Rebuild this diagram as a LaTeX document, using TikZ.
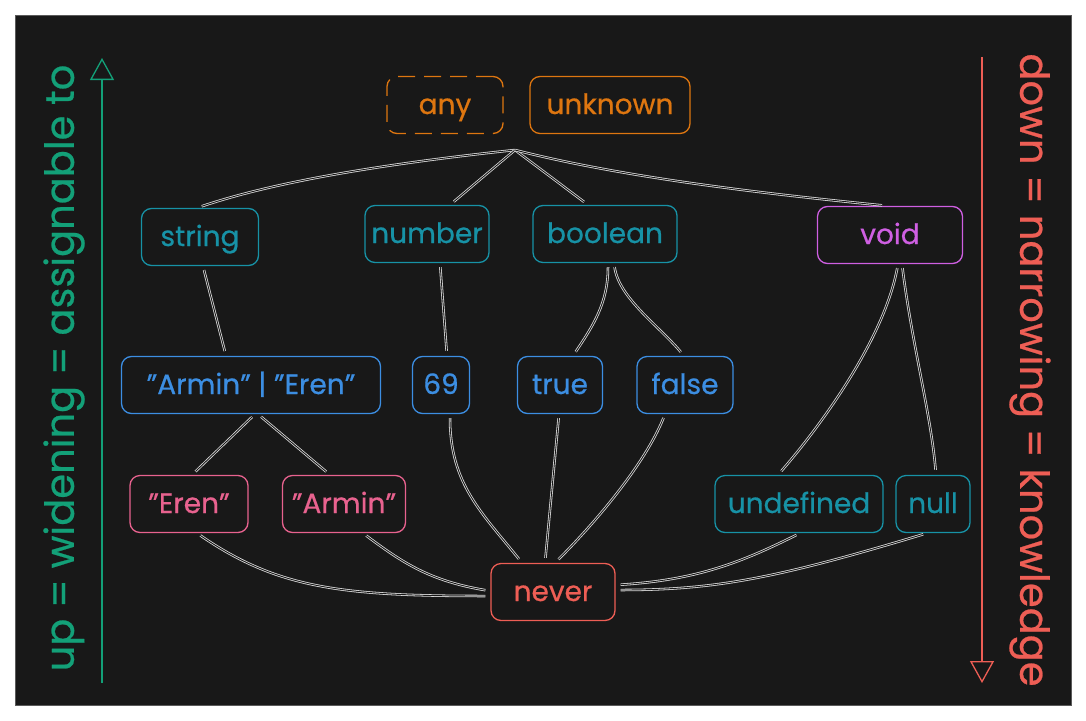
\documentclass[tikz,border=0pt]{standalone}
\usepackage{fontspec}
\setmainfont{Poppins}[FakeBold=0.6]
\usepackage{xcolor}
\definecolor{bgDark}{HTML}{181818}
\definecolor{frameGray}{HTML}{5A5A5A}
\definecolor{lineGray}{HTML}{DADADA}
\definecolor{tsOrange}{HTML}{DE7610}
\definecolor{tsTeal}{HTML}{1792A6}
\definecolor{tsBlue}{HTML}{3C8EE2}
\definecolor{tsPurple}{HTML}{CF5FE2}
\definecolor{tsPink}{HTML}{E8628F}
\definecolor{tsRed}{HTML}{EE5E55}
\definecolor{tsGreen}{HTML}{13A078}
\usetikzlibrary{arrows.meta,positioning,calc}
\newcommand{\dq}{\symbol{34}}
\tikzset{
  typebox/.style={rectangle,rounded corners=10pt,line width=1.3pt,fill=bgDark,
    inner sep=0pt,minimum height=57pt,text height=22pt,text depth=4pt,
    align=center,font=\fontsize{28}{31}\selectfont},
  toptype/.style={typebox,draw=tsOrange,text=tsOrange},
  primtype/.style={typebox,draw=tsTeal,text=tsTeal},
  littype/.style={typebox,draw=tsBlue,text=tsBlue},
  strlit/.style={typebox,draw=tsPink,text=tsPink},
  voidtype/.style={typebox,draw=tsPurple,text=tsPurple},
  bottomtype/.style={typebox,draw=tsRed,text=tsRed},
  link/.style={draw=lineGray,double=bgDark,double distance=0.9pt,line width=0.8pt,
    shorten <=4pt,shorten >=5pt},
  axis/.style={line width=1.3pt,-{Triangle[open,length=22pt,width=24pt,line width=1.3pt]}},
  axislabel/.style={font=\fontsize{40}{44}\selectfont},
}
\begin{document}
\begin{tikzpicture}[x=1pt,y=-1pt]
  \useasboundingbox (0,0) rectangle (1086,720);
  \fill[white] (0,0) rectangle (1086,720);
  \draw[frameGray,fill=bgDark] (15,15) rectangle (1071,705);

  % top types
  \node[toptype,dashed,dash pattern=on 17pt off 9pt,minimum width=116pt] (any) at (445,105) {any};
  \node[toptype,minimum width=160pt] (unknown) at (610,105) {unknown};
  \coordinate (topjoin) at (515,150);

  % primitives
  \node[primtype,minimum width=117pt] (string) at (200,237) {string};
  \node[primtype,minimum width=124pt] (number) at (427,234) {number};
  \node[primtype,minimum width=144pt] (boolean) at (605,234) {boolean};
  \node[voidtype,minimum width=145pt] (void) at (890,235) {void};

  % literals
  \node[littype,minimum width=259pt] (union) at (251,385) {\dq Armin\dq{} | \dq Eren\dq};
  \node[littype,minimum width=57pt] (lit69) at (441,385) {69};
  \node[littype,minimum width=85pt] (true) at (560,385) {true};
  \node[littype,minimum width=96pt] (false) at (685,385) {false};

  \node[strlit,minimum width=118pt] (eren) at (189,504) {\dq Eren\dq};
  \node[strlit,minimum width=123pt] (armin) at (344,504) {\dq Armin\dq};
  \node[primtype,minimum width=168pt] (undef) at (799,504) {undefined};
  \node[primtype,minimum width=74pt] (null) at (933,504) {null};

  \node[bottomtype,minimum width=124pt] (never) at (553,592) {never};

  % top -> primitives
  \draw[link,shorten <=0pt] (topjoin) .. controls +(-170,18) and +(60,-20) .. ([xshift=-3pt]string.north);
  \draw[link,shorten <=0pt] (topjoin) -- ([xshift=23pt]number.north);
  \draw[link,shorten <=0pt] (topjoin) -- ([xshift=-17pt]boolean.north);
  \draw[link,shorten <=0pt] (topjoin) .. controls +(110,28) and +(-120,-12) .. ([xshift=-3pt]void.north);

  % primitives -> literals
  \draw[link] ([xshift=3pt]string.south) -- ([xshift=-25pt]union.north);
  \draw[link] ([xshift=13pt]number.south) -- ([xshift=6pt]lit69.north);
  \draw[link] ([xshift=3pt]boolean.south) .. controls +(0,40) and +(20,-30) .. ([xshift=13pt]true.north);
  \draw[link] ([xshift=9pt]boolean.south) .. controls +(5,35) and +(-25,-30) .. ([xshift=-1pt]false.north);
  \draw[link] ([xshift=8pt]void.south) .. controls +(-15,80) and +(35,-40) .. ([xshift=-21pt]undef.north);
  \draw[link] ([xshift=12pt]void.south) .. controls +(10,80) and +(-5,-60) .. ([xshift=3pt]null.north);
  \draw[link] ([xshift=4pt]union.south) -- ([xshift=3pt]eren.north);
  \draw[link] ([xshift=7pt]union.south) -- ([xshift=-14pt]armin.north);

  % everything -> never
  \draw[link] ([xshift=9pt]lit69.south) .. controls +(0,70) and +(-40,-50) .. ([xshift=-31pt]never.north);
  \draw[link] ([xshift=-1pt]true.south) -- ([xshift=-8pt]never.north);
  \draw[link] ([xshift=-20pt]false.south) .. controls +(-20,50) and +(40,-40) .. ([xshift=2pt]never.north);
  \draw[link] ([xshift=8pt]eren.south) .. controls +(80,55) and +(-150,0) .. ([yshift=-4pt]never.west);
  \draw[link] ([xshift=19pt]armin.south) .. controls +(40,30) and +(-60,-10) .. ([yshift=1pt]never.west);
  \draw[link] ([xshift=1pt]undef.south) .. controls +(-60,30) and +(80,-5) .. ([yshift=7pt]never.east);
  \draw[link] ([xshift=-6pt]null.south) .. controls +(-150,45) and +(100,0) .. ([yshift=2pt]never.east);

  % side axes
  \coordinate (upfoot) at (102,683);
  \coordinate (uphead) at (102,58);
  \draw[axis,tsGreen] (upfoot) -- (uphead);
  \node[axislabel,text=tsGreen,rotate=90] (uplabel) at (64,368) {up = widening = assignable to};

  \coordinate (downfoot) at (982,57);
  \coordinate (downhead) at (982,683);
  \draw[axis,tsRed] (downfoot) -- (downhead);
  \node[axislabel,text=tsRed,rotate=-90] (downlabel) at (1030,370) {down = narrowing = knowledge};
\end{tikzpicture}
\end{document}
